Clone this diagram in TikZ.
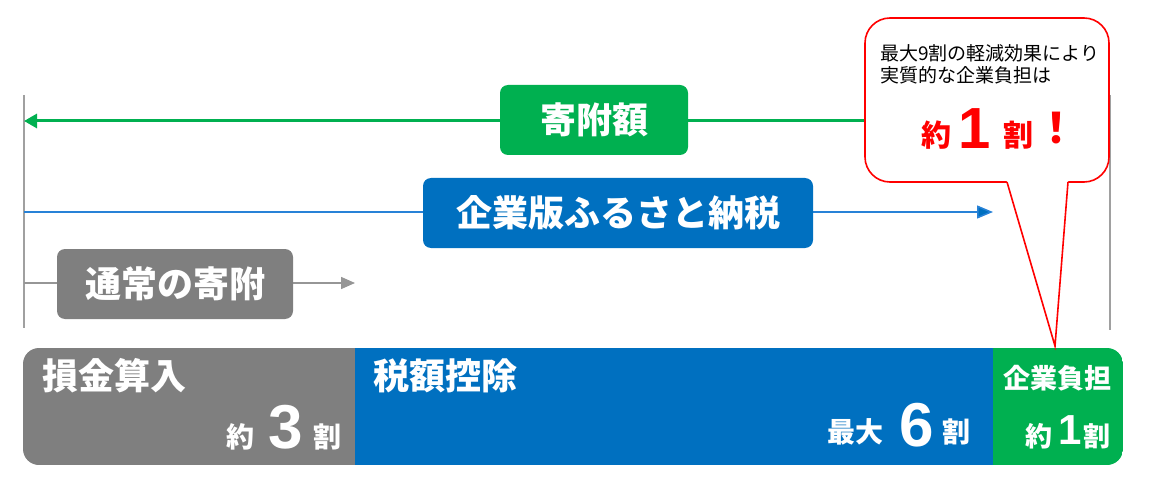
\documentclass[tikz,border=0pt]{standalone}
\usepackage{fontspec}
\newfontfamily\jp{Noto Sans CJK JP}
\newfontfamily\num{Liberation Sans}
\usetikzlibrary{arrows.meta}
\definecolor{grn}{RGB}{0,176,80}
\definecolor{blu}{RGB}{0,112,192}
\definecolor{lblu}{RGB}{40,130,215}
\definecolor{gry}{RGB}{127,127,127}
\definecolor{lgry}{RGB}{150,150,150}
\definecolor{vgry}{RGB}{160,160,160}
\newcommand{\fs}[1]{\fontsize{#1}{#1}\selectfont}
\tikzset{
  tag/.style={rounded corners=8pt, inner sep=0pt, text=white, font=\jp\bfseries\fs{36}},
  wtxt/.style={text=white, inner sep=0pt, font=\jp\bfseries\fs{36}},
  small/.style={text=white, inner sep=0pt, font=\jp\bfseries\fs{27}},
  big/.style={text=white, inner sep=0pt, font=\num\bfseries\fs{62}},
}
\begin{document}
\begin{tikzpicture}[x=1pt,y=-1pt]
\useasboundingbox (0,0) rectangle (1152,500);
% vertical guides
\coordinate (lt) at (24,95); \coordinate (lb) at (24,328);
\coordinate (rt) at (1110,95); \coordinate (rb) at (1110,330);
\draw[vgry, line width=1.5pt] (lt) -- (lb);
\draw[vgry, line width=1.5pt] (rt) -- (rb);
% arrows
\coordinate (gs) at (1110,121); \coordinate (ge) at (24,121);
\draw[grn, line width=3pt, -{Triangle[length=13pt,width=14pt]}] (gs) -- (ge);
\coordinate (bs) at (24,212); \coordinate (be) at (993,212);
\draw[lblu, line width=1.5pt, -{Triangle[length=16pt,width=13pt,fill=blu]}] (bs) -- (be);
\coordinate (ys) at (24,283); \coordinate (ye) at (355,283);
\draw[lgry, line width=1.5pt, -{Triangle[length=14pt,width=12pt]}] (ys) -- (ye);
% tags
\node[tag, fill=grn, minimum width=188pt, minimum height=70pt] (kifu) at (594,120) {寄附額};
\node[tag, fill=blu, minimum width=390pt, minimum height=70pt] (furu) at (618,213) {企業版ふるさと納税};
\node[tag, fill=gry, minimum width=236pt, minimum height=70pt] (tsu) at (175,284) {通常の寄附};
% bottom bar
\begin{scope}
\clip[rounded corners=16pt] (23,348) rectangle (1123,465);
\node[fill=gry, inner sep=0pt, minimum width=332pt, minimum height=117pt, anchor=north west] (barg) at (23,348) {};
\node[fill=blu, inner sep=0pt, minimum width=638pt, minimum height=117pt, anchor=north west] (barb) at (355,348) {};
\node[fill=grn, inner sep=0pt, minimum width=130pt, minimum height=117pt, anchor=north west] (barn) at (993,348) {};
\end{scope}
\node[wtxt, anchor=west] (son) at (42,376) {損金算入};
\node[wtxt, font=\jp\bfseries\fs{28}] (g1) at (240,437) {約};
\node[big] (g2) at (286,427) {3};
\node[wtxt, font=\jp\bfseries\fs{28}] (g3) at (327,437) {割};
\node[wtxt, anchor=west] (zei) at (373,376) {税額控除};
\node[wtxt, font=\jp\bfseries\fs{28}] (b1) at (855,432) {最大};
\node[big] (b2) at (917,425) {6};
\node[wtxt, font=\jp\bfseries\fs{28}] (b3) at (956,432) {割};
\node[small] (kig) at (1057,378) {企業負担};
\node[small] (n1) at (1039,436) {約};
\node[big, font=\num\bfseries\fs{42}] (n2) at (1070,430) {1};
\node[small] (n3) at (1097,436) {割};
% callout
\coordinate (t1) at (1007,182); \coordinate (tip) at (1055,346); \coordinate (t2) at (1068,182);
\draw[red, line width=1.6pt, fill=white, rounded corners=25pt] (865,18) rectangle (1109,182);
\fill[white] (1006,178) -- (1069,178) -- (t2) -- (tip) -- (t1) -- cycle;
\draw[red, line width=1.6pt, line join=miter] (t1) -- (tip) -- (t2);
\node[inner sep=0pt, anchor=north west, align=left, font=\jp\fs{19}, text=black] (ct) at (880,44) {最大9割の軽減効果により\\[3pt]実質的な企業負担は};
\node[inner sep=0pt, text=red, font=\jp\bfseries\fs{30}] (r1) at (936,135) {約};
\node[inner sep=0pt, text=red, font=\num\bfseries\fs{58}] (r2) at (975,129) {1};
\node[inner sep=0pt, text=red, font=\jp\bfseries\fs{30}] (r3) at (1018,135) {割};
\node[inner sep=0pt, text=red, font=\jp\bfseries\fs{42}] (r4) at (1056,128) {！};
\end{tikzpicture}
\end{document}
